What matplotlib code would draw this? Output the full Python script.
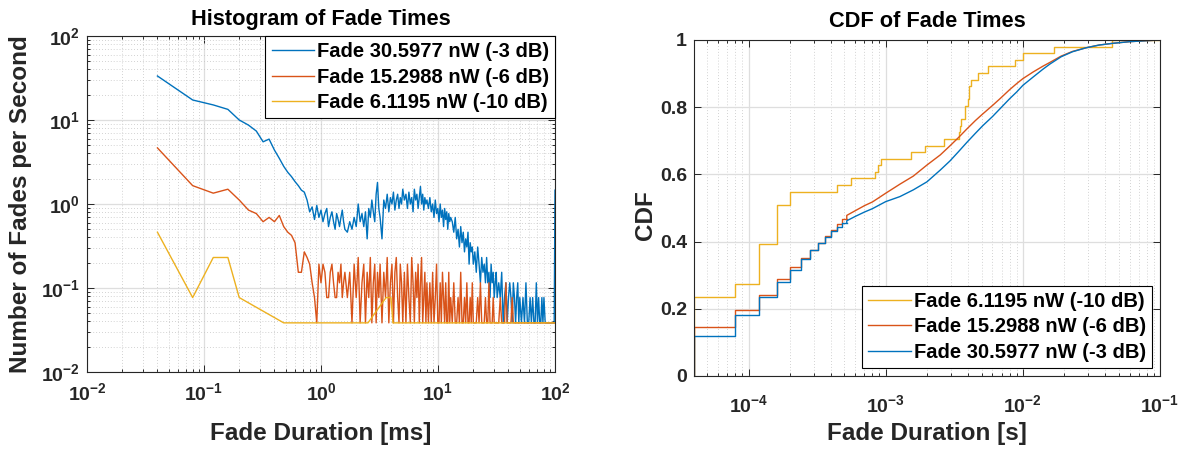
import numpy as np
import matplotlib
matplotlib.use('Agg')
import matplotlib.pyplot as plt
from matplotlib.ticker import LogLocator, NullFormatter, FixedLocator

plt.rcParams['font.family'] = ['Liberation Sans', 'DejaVu Sans']
plt.rcParams['font.weight'] = 'bold'
plt.rcParams['axes.labelweight'] = 'bold'
plt.rcParams['axes.titleweight'] = 'bold'
plt.rcParams['mathtext.fontset'] = 'custom'
plt.rcParams['mathtext.rm'] = 'Liberation Sans:bold'
plt.rcParams['mathtext.bf'] = 'Liberation Sans:bold'
plt.rcParams['mathtext.it'] = 'Liberation Sans:bold'
plt.rcParams['mathtext.default'] = 'bf'

BLUE = '#0072BD'
ORANGE = '#D95319'
YELLOW = '#EDB120'
TXT = '#262626'

labels = ['Fade 30.5977 nW (-3 dB)', 'Fade 15.2988 nW (-6 dB)', 'Fade 6.1195 nW (-10 dB)']

# histogram: bin index (0.04 ms bins) and fade counts, record length 26 s
BIN_MS = 0.04
RECORD_S = 26.0
hist_bins = [1, 2, 3, 4, 5, 6, 7, 8, 9, 10, 11, 12, 13, 14, 15, 16, 17, 18, 19, 20,
             21, 22, 23, 24, 25, 26, 27, 28, 29, 30, 31, 32, 33, 34, 35, 36, 37, 38, 39, 40,
             42, 44, 46, 48, 50, 52, 54, 56, 58, 60, 62, 64, 66, 68, 70, 72, 74, 76, 78, 80,
             83, 86, 89, 92, 95, 98, 101, 104, 107, 110, 113, 116, 119, 122, 125,
             129, 133, 137, 141, 145, 149, 153, 157, 161, 165, 169, 173, 177, 181, 185, 189, 193, 197, 201,
             207, 213, 219, 225, 231, 237, 243, 249, 255, 261, 267, 273, 279, 285, 291, 297, 303, 309, 315, 321,
             331, 341, 351, 361, 371, 381, 391, 401, 411, 421, 431, 441, 451, 461, 471, 481, 491, 501,
             516, 531, 546, 561, 576, 591, 606, 621, 636, 651, 666, 681, 696, 711, 726, 741, 756, 771, 786, 801,
             826, 851, 876, 901, 926, 951, 976, 1001, 1026, 1051, 1076, 1101, 1126, 1151, 1176, 1201, 1226, 1251,
             1291, 1331, 1371, 1411, 1451, 1491, 1531, 1571, 1611, 1651, 1691, 1731, 1771, 1811, 1851, 1891, 1931, 1971, 2011,
             2061, 2111, 2161, 2211, 2261, 2311, 2361, 2411, 2461,
             2500]
hist_3db = [869, 450, 393, 348, 260, 226, 192, 143, 154, 114, 91, 73, 62, 55, 48, 43, 38, 36, 29, 21,
            24, 17, 25, 18, 22, 16, 20, 23, 14, 18, 21, 16, 13, 20, 17, 14, 18, 22, 16, 13,
            12, 16, 13, 18, 14, 26, 16, 20, 14, 21, 10, 23, 18, 29, 21, 16, 34, 47, 23, 18,
            10, 29, 23, 34, 21, 31, 26, 36, 22, 29, 34, 23, 31, 26, 39,
            29, 34, 23, 36, 26, 31, 21, 39, 29, 34, 23, 31, 42, 26, 34, 22, 31, 26, 29,
            23, 31, 21, 26, 18, 29, 20, 23, 16, 26, 18, 22, 14, 23, 17, 21, 13, 20, 16, 18,
            16, 12, 18, 10, 13, 8, 14, 9, 12, 7, 10, 8, 12, 5, 9, 7, 8, 5,
            7, 4, 8, 5, 3, 6, 4, 5, 3, 6, 3, 4, 2, 5, 3, 4, 2, 3, 4, 2,
            3, 2, 4, 1, 2, 3, 1, 2, 3, 2, 1, 3, 2, 1, 2, 3, 1, 2,
            1, 2, 1, 3, 1, 1, 2, 1, 2, 1, 1, 3, 1, 2, 1, 1, 2, 1, 2,
            1, 1, 1, 1, 1, 1, 1, 1, 1,
            38]
hist_6db = [121, 43, 35, 39, 29, 22, 20, 16, 18, 16, 19, 14, 12, 11, 9, 4, 4, 7, 6, 5,
            3, 2, 1, 5, 3, 5, 4, 2, 2, 4, 5, 3, 2, 2, 4, 3, 5, 2, 3, 4,
            2, 4, 1, 5, 2, 6, 1, 3, 5, 1, 4, 2, 6, 1, 3, 5, 1, 4, 2, 5,
            1, 4, 2, 6, 1, 3, 5, 1, 4, 6, 2, 1, 5, 3, 1,
            4, 1, 5, 2, 1, 6, 3, 1, 4, 2, 5, 1, 3, 6, 1, 2, 4, 1, 3,
            1, 3, 1, 4, 1, 2, 5, 1, 1, 3, 1, 4, 2, 1, 3, 1, 1, 4, 1, 2,
            1, 3, 1, 1, 2, 1, 4, 1, 1, 2, 1, 3, 1, 1, 2, 1, 3, 1,
            1, 1, 2, 1, 3, 1, 1, 1, 2, 1, 1, 3, 1, 1, 1, 2, 1, 1, 1, 1,
            1, 2, 1, 1, 1, 3, 1, 1, 1, 1, 2, 1, 1, 1, 1, 1, 1, 1,
            1, 1, 1, 1, 1, 1, 1, 1, 1, 1, 1, 1, 1, 1, 1, 1, 1, 1, 1,
            1, 1, 1, 1, 1, 1, 1, 1, 1,
            1]
hist_bins_10db = [1, 2, 3, 4, 5, 12, 63, 90, 99, 103, 2500]
hist_10db = [12, 2, 6, 6, 2, 1, 1, 2, 2, 1, 1]

# CDF: stepped part (0.04 ms resolution) then dense part, duration in seconds
cdf_step_x = [4e-5, 8e-5, 1.2e-4, 1.6e-4, 2.0e-4, 2.4e-4, 2.8e-4, 3.2e-4, 3.6e-4, 4.0e-4, 4.4e-4, 4.8e-4]
cdf_step_3db = [0.119, 0.182, 0.234, 0.281, 0.315, 0.347, 0.375, 0.397, 0.415, 0.432, 0.444, 0.455]
cdf_step_6db = [0.145, 0.196, 0.241, 0.288, 0.325, 0.352, 0.376, 0.395, 0.416, 0.434, 0.452, 0.467]
cdf_curve_x = [5.2e-4, 6e-4, 7e-4, 8e-4, 1.0e-3, 1.27e-3, 1.59e-3, 2.0e-3, 2.5e-3, 2.94e-3,
               3.4e-3, 3.9e-3, 4.5e-3, 5.1e-3, 6e-3, 6.8e-3, 8e-3, 9e-3, 1.0e-2, 1.19e-2,
               1.4e-2, 1.57e-2, 1.9e-2, 2.3e-2, 2.9e-2, 3.6e-2, 4.5e-2, 6e-2, 8e-2, 1e-1]
cdf_curve_3db = [0.462, 0.475, 0.488, 0.498, 0.519, 0.534, 0.554, 0.578, 0.613, 0.640,
                 0.668, 0.695, 0.722, 0.745, 0.772, 0.795, 0.825, 0.845, 0.865, 0.890,
                 0.913, 0.928, 0.950, 0.965, 0.977, 0.985, 0.990, 0.995, 0.998, 1.0]
cdf_curve_6db = [0.478, 0.492, 0.507, 0.518, 0.544, 0.571, 0.595, 0.628, 0.658, 0.685,
                 0.710, 0.735, 0.760, 0.780, 0.805, 0.825, 0.852, 0.870, 0.885, 0.905,
                 0.922, 0.933, 0.952, 0.966, 0.977, 0.985, 0.990, 0.995, 0.998, 1.0]
cdf_x_10db = [4e-5, 8e-5, 1.2e-4, 1.6e-4, 2.0e-4, 4.4e-4, 5.6e-4, 8.4e-4, 8.8e-4, 9.2e-4,
              1.52e-3, 1.92e-3, 2.64e-3, 3.44e-3, 3.48e-3, 3.52e-3, 3.76e-3, 3.8e-3, 4.0e-3, 4.04e-3,
              4.08e-3, 4.16e-3, 4.68e-3, 5.6e-3, 8.76e-3, 1.0e-2, 1.7e-2, 4.5e-2]
cdf_10db = [0.235, 0.275, 0.392, 0.510, 0.549, 0.569, 0.588, 0.608, 0.627, 0.647,
            0.667, 0.686, 0.706, 0.725, 0.745, 0.765, 0.784, 0.804, 0.824, 0.843,
            0.863, 0.882, 0.902, 0.922, 0.941, 0.961, 0.980, 1.0]


def style_axes(ax, xpad, minor_y=True):
    ax.tick_params(which='both', direction='in', top=True, right=True,
                   colors=TXT, labelsize=14, width=0.7)
    ax.tick_params(axis='x', which='both', pad=xpad)
    ax.tick_params(axis='y', which='both', pad=5)
    ax.tick_params(which='major', length=5)
    ax.tick_params(which='minor', length=2.5)
    for s in ax.spines.values():
        s.set_color(TXT)
        s.set_linewidth(0.8)
    ax.grid(True, which='major', color='#dedede', linewidth=0.9, linestyle='-')
    ax.grid(True, which='minor', axis='both' if minor_y else 'x',
            color='#c4c4c4', linewidth=0.6, linestyle=(0, (1, 2.5)))
    ax.set_axisbelow(True)


def log_ticks(axis):
    axis.set_major_locator(LogLocator(base=10, numticks=20))
    axis.set_minor_locator(LogLocator(base=10, subs=np.arange(2, 10), numticks=100))
    axis.set_minor_formatter(NullFormatter())


fig = plt.figure(figsize=(11.87, 4.53), dpi=100)
ax1 = fig.add_axes([87 / 1187, 81 / 453, 468 / 1187, 336 / 453])
ax2 = fig.add_axes([694 / 1187, 77 / 453, 466 / 1187, 336 / 453])

# ---- histogram
xb = BIN_MS * np.array(hist_bins)
ax1.loglog(xb, np.array(hist_3db) / RECORD_S, color=BLUE, lw=1.0, label=labels[0])
ax1.loglog(xb, np.array(hist_6db) / RECORD_S, color=ORANGE, lw=1.0, label=labels[1])
ax1.loglog(BIN_MS * np.array(hist_bins_10db), np.array(hist_10db) / RECORD_S,
           color=YELLOW, lw=1.0, label=labels[2])
ax1.set_xlim(1e-2, 1e2)
ax1.set_ylim(1e-2, 1e2)
log_ticks(ax1.xaxis)
log_ticks(ax1.yaxis)
style_axes(ax1, xpad=7)
ax1.set_title('Histogram of Fade Times', fontsize=15.7, pad=8)
ax1.set_xlabel('Fade Duration [ms]', fontsize=17.5, color=TXT)
ax1.set_ylabel('Number of Fades per Second', fontsize=17.5, color=TXT)
ax1.xaxis.set_label_coords(0.5, -0.149)
ax1.yaxis.set_label_coords(-0.1175, 0.5)
leg1 = ax1.legend(loc='upper right', borderaxespad=0, fontsize=14.5, fancybox=False,
                  edgecolor='black', framealpha=1, handlelength=2.1, handletextpad=0.15,
                  labelspacing=0.33, borderpad=0.3)
leg1.get_frame().set_linewidth(0.8)


# ---- CDF
def cdf_line(ax, sx, sy, cx, cy, color, label):
    x = np.r_[sx[0], sx, cx[0]]
    y = np.r_[0, sy, sy[-1]]
    ax.step(x, y, where='post', color=color, lw=1.0, label=label)
    ax.plot(np.r_[cx[0], cx], np.r_[sy[-1], cy], color=color, lw=1.0)


yx = np.r_[cdf_x_10db[0], cdf_x_10db, 1e-1]
yy = np.r_[0, cdf_10db, cdf_10db[-1]]
ax2.step(yx, yy, where='post', color=YELLOW, lw=1.0, label=labels[2])
cdf_line(ax2, cdf_step_x, cdf_step_6db, cdf_curve_x, cdf_curve_6db, ORANGE, labels[1])
cdf_line(ax2, cdf_step_x, cdf_step_3db, cdf_curve_x, cdf_curve_3db, BLUE, labels[0])
ax2.set_xscale('log')
ax2.set_xlim(4e-5, 1e-1)
ax2.set_ylim(0, 1)
log_ticks(ax2.xaxis)
ax2.yaxis.set_major_locator(FixedLocator([0, 0.2, 0.4, 0.6, 0.8, 1.0]))
ax2.set_yticklabels(['0', '0.2', '0.4', '0.6', '0.8', '1'])
style_axes(ax2, xpad=13, minor_y=False)
ax2.set_title('CDF of Fade Times', fontsize=15.7, pad=9.5)
ax2.set_xlabel('Fade Duration [s]', fontsize=17.5, color=TXT)
ax2.set_ylabel('CDF', fontsize=17.5, color=TXT)
ax2.xaxis.set_label_coords(0.5, -0.137)
ax2.yaxis.set_label_coords(-0.079, 0.48)
handles, labs = ax2.get_legend_handles_labels()
leg2 = ax2.legend(handles, labs, loc='lower right', borderaxespad=0.4, fontsize=14.5,
                  fancybox=False, edgecolor='black', framealpha=1, handlelength=2.1,
                  handletextpad=0.15, labelspacing=0.33, borderpad=0.3)
leg2.get_frame().set_linewidth(0.8)

fig.savefig('out.png', dpi=100)
